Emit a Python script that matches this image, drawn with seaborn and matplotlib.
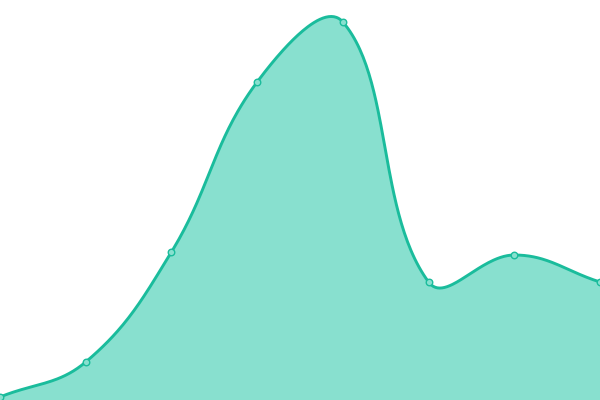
import numpy as np
import pandas as pd
import matplotlib
matplotlib.use("Agg")
import matplotlib.pyplot as plt
import seaborn as sns

# data (y axis 0..400, x = point index 0..7)
idx = [0, 1, 2, 3, 4, 5, 6, 7]
values = [3, 38, 148, 318, 378, 118, 145, 118]

line_color = "#1abc9c"
fill_color = "#88e0cf"


def spline_curve(x, y, tension=0.4, xscale=600 / 7, n=60):
    # bezier smoothing with control points from neighbours (pixel space)
    P = np.column_stack([np.asarray(x, float) * xscale, np.asarray(y, float)])
    k = len(P)
    cp_prev = P.copy()
    cp_next = P.copy()
    for i in range(k):
        p = P[max(i - 1, 0)]
        c = P[i]
        nx = P[min(i + 1, k - 1)]
        d01 = np.hypot(*(c - p))
        d12 = np.hypot(*(nx - c))
        tot = d01 + d12
        s01 = d01 / tot if tot else 0
        s12 = d12 / tot if tot else 0
        cp_prev[i] = c - tension * s01 * (nx - p)
        cp_next[i] = c + tension * s12 * (nx - p)
    t = np.linspace(0, 1, n)[:, None]
    segs = []
    for i in range(k - 1):
        a, b, c, d = P[i], cp_next[i], cp_prev[i + 1], P[i + 1]
        seg = ((1 - t) ** 3) * a + 3 * ((1 - t) ** 2) * t * b + 3 * (1 - t) * t ** 2 * c + t ** 3 * d
        segs.append(seg if i == 0 else seg[1:])
    out = np.vstack(segs)
    return out[:, 0] / xscale, out[:, 1]


sns.set_style("white")
fig = plt.figure(figsize=(6, 4), dpi=100)
ax = fig.add_axes([0, 0, 1, 1])

xs, ys = spline_curve(idx, values)
curve = pd.DataFrame({"x": xs, "y": ys})
pts = pd.DataFrame({"x": idx, "y": values})

ax.fill_between(curve["x"], curve["y"], 0, color=fill_color, linewidth=0)
ax.plot(curve["x"], curve["y"], color=line_color, linewidth=2.1)
sns.scatterplot(data=pts, x="x", y="y", ax=ax, s=22, color=fill_color,
                edgecolor=line_color, linewidth=1.0, zorder=5, clip_on=False)

ax.set_xlim(0, 7)
ax.set_ylim(0, 400)
ax.axis("off")

fig.savefig("out.png", dpi=100)
